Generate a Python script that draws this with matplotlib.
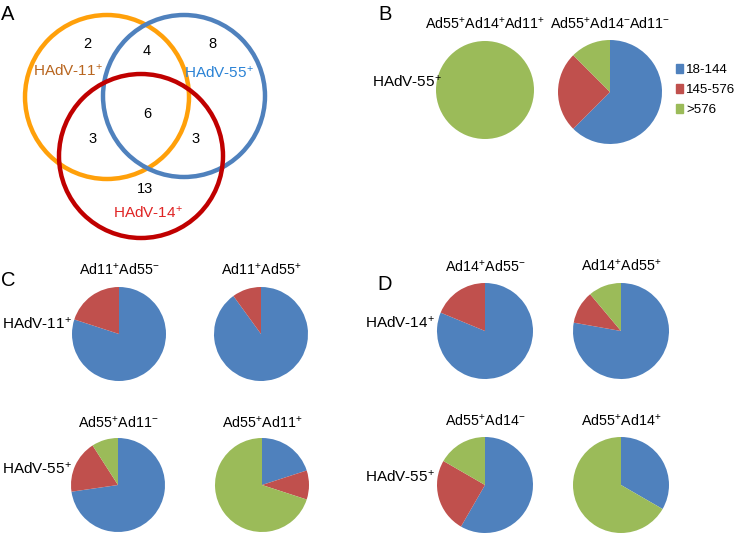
import matplotlib
matplotlib.use("Agg")
import matplotlib.pyplot as plt
from matplotlib.patches import Circle, Patch

plt.rcParams['font.family'] = ['Liberation Sans', 'DejaVu Sans']
plt.rcParams['mathtext.fontset'] = 'custom'
plt.rcParams['mathtext.rm'] = 'Liberation Sans'
plt.rcParams['mathtext.it'] = 'Liberation Sans'

W, H = 734, 533

# venn counts: region label -> count
venn_counts = {"11": 2, "11_55": 4, "55": 8, "all": 6,
               "11_14": 3, "55_14": 3, "14": 13}

# pie categories (titer ranges) and colours
categories = ["18-144", "145-576", ">576"]
pie_colors = ["#4F81BD", "#C0504D", "#9BBB59"]

# counts per pie [18-144, 145-576, >576]
b_all = [0, 0, 6]
b_55only = [5, 2, 1]
c_11_not55 = [4, 1, 0]
c_11_55 = [9, 1, 0]
c_55_not11 = [8, 2, 1]
c_55_11 = [2, 1, 7]
d_14_not55 = [13, 3, 0]
d_14_55 = [7, 1, 1]
d_55_not14 = [7, 3, 2]
d_55_14 = [3, 0, 6]

fig = plt.figure(figsize=(W / 100, H / 100), dpi=100)
base = fig.add_axes([0, 0, 1, 1])
base.set_xlim(0, W)
base.set_ylim(H, 0)
base.axis('off')


def label(x, y, s, **kw):
    # figure-level text so it sits above the pie axes
    kw.setdefault('fontsize', 10)
    kw.setdefault('va', 'center')
    fig.text(x, y, s, transform=base.transData, **kw)


# ---- panel A: venn
rings = [((107, 97), 82, "#FFA00A"),
         ((184, 96), 81, "#4F81BD"),
         ((141, 156), 82, "#C00000")]
for (cx, cy), r, col in rings:
    base.add_patch(Circle((cx, cy), r, fill=False, ec=col, lw=3.2))

num_pos = {"11": (87, 44), "11_55": (147, 51), "55": (212, 44), "all": (147, 114),
           "11_14": (93, 139), "55_14": (196, 139), "14": (145, 189)}
for k, v in venn_counts.items():
    label(*num_pos[k], str(v), fontsize=10.5, ha='center')

label(68, 71, r"HAdV-11$^{+}$", color="#B8651E", fontsize=11, ha='center')
label(219, 73, r"HAdV-55$^{+}$", color="#2A82D5", fontsize=11, ha='center')
label(148, 213, r"HAdV-14$^{+}$", color="#E02424", fontsize=11, ha='center')

# panel letters
for lab, x, y in [("A", 8, 15), ("B", 385, 15), ("C", 8, 280), ("D", 385, 285)]:
    label(x, y, lab, fontsize=14.5, ha='center')


def pie_at(cx, cy, r, vals, title, ty):
    ax = fig.add_axes([(cx - r) / W, 1 - (cy + r) / H, 2 * r / W, 2 * r / H])
    ax.pie(vals, colors=pie_colors, startangle=90, counterclock=False, radius=1,
           wedgeprops=dict(linewidth=0))
    ax.set_xlim(-1, 1)
    ax.set_ylim(-1, 1)
    ax.set_aspect('auto')
    ax.axis('off')
    label(cx, ty, title, fontsize=10.3, ha='center')


# ---- panel B
pie_at(485, 90, 49, b_all, r"Ad55$^{+}$Ad14$^{+}$Ad11$^{+}$", 24)
pie_at(610, 92, 52, b_55only, r"Ad55$^{+}$Ad14$^{-}$Ad11$^{-}$", 24)
label(442, 82, r"HAdV-55$^{+}$", fontsize=11, ha='right')

handles = [Patch(color=c, label=l) for c, l in zip(pie_colors, categories)]
base.legend(handles=handles, loc='upper left', bbox_to_anchor=(676 / W, 1 - 64 / H),
            bbox_transform=fig.transFigure, frameon=False, fontsize=9.6,
            borderpad=0, borderaxespad=0,
            handlelength=0.5, handleheight=0.6, handletextpad=0.25, labelspacing=0.6)

# ---- panel C
pie_at(119, 334, 47, c_11_not55, r"Ad11$^{+}$Ad55$^{-}$", 270)
pie_at(261, 334, 47, c_11_55, r"Ad11$^{+}$Ad55$^{+}$", 270)
pie_at(118, 485, 47, c_55_not11, r"Ad55$^{+}$Ad11$^{-}$", 423)
pie_at(262, 485, 47, c_55_11, r"Ad55$^{+}$Ad11$^{+}$", 423)
label(72, 324, r"HAdV-11$^{+}$", fontsize=11, ha='right')
label(72, 469, r"HAdV-55$^{+}$", fontsize=11, ha='right')

# ---- panel D
pie_at(485, 331, 48, d_14_not55, r"Ad14$^{+}$Ad55$^{-}$", 267)
pie_at(621, 331, 48, d_14_55, r"Ad14$^{+}$Ad55$^{+}$", 266)
pie_at(485, 485, 48, d_55_not14, r"Ad55$^{+}$Ad14$^{-}$", 421)
pie_at(621, 485, 48, d_55_14, r"Ad55$^{+}$Ad14$^{+}$", 421)
label(435, 323, r"HAdV-14$^{+}$", fontsize=11, ha='right')
label(435, 477, r"HAdV-55$^{+}$", fontsize=11, ha='right')

fig.savefig("out.png", dpi=100)
